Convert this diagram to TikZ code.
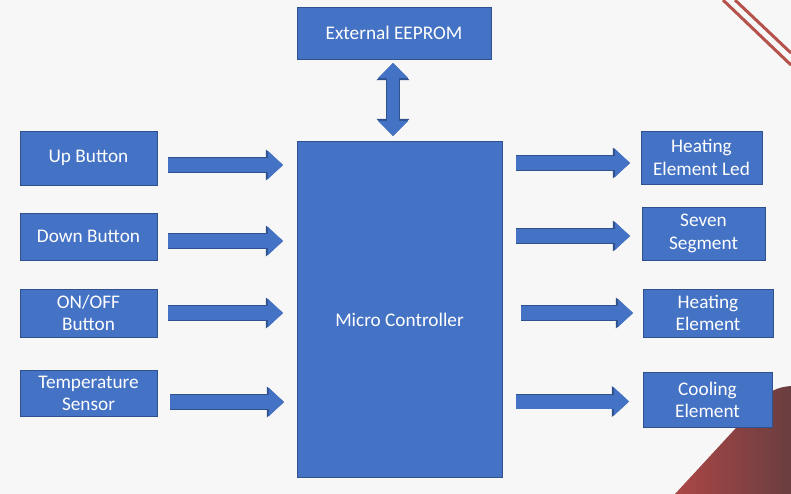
\documentclass[tikz,border=0pt]{standalone}
\usepackage{fontspec}
\setmainfont{Carlito}
\usetikzlibrary{arrows.meta}

\definecolor{boxblue}{HTML}{4472C4}
\definecolor{boxedge}{HTML}{2F528F}
\definecolor{slidebg}{HTML}{F7F7F7}
\definecolor{accentred}{RGB}{182,82,76}
\definecolor{cornerlight}{RGB}{172,70,70}
\definecolor{cornerdark}{RGB}{106,62,64}

\newcommand{\unitpx}{0.025cm}

\tikzset{
	blk/.style={draw=boxedge, fill=boxblue, line width=0.6pt, text=white, align=center, inner sep=0pt, font=\fontsize{13.7}{15.8}\selectfont},
	blockarrow/.style={line width=0.35cm, color=boxblue, -{Triangle[line width=0pt, length=0.375cm, width=0.7cm]},
		preaction={draw=boxedge, line width=0.35cm+1.2pt, -{Triangle[line width=0pt, length=0.43cm, width=0.78cm]}}},
	dblarrow/.style={line width=0.3cm, color=boxblue, {Triangle[line width=0pt, length=0.375cm, width=0.75cm]}-{Triangle[line width=0pt, length=0.375cm, width=0.75cm]},
		preaction={draw=boxedge, line width=0.3cm+1.2pt, {Triangle[line width=0pt, length=0.43cm, width=0.83cm]}-{Triangle[line width=0pt, length=0.43cm, width=0.83cm]}}},
}

\begin{document}
\begin{tikzpicture}[x=\unitpx, y=-\unitpx]

		\useasboundingbox (0,0) rectangle (791,494);
		\fill [slidebg] (0,0) rectangle (791,494);

		% slide decoration
		\draw [accentred, line width=3*\unitpx] (723,0) -- (791,65);
		\draw [accentred, line width=3*\unitpx] (735,0) -- (791,53);
		\shade [left color=cornerlight, right color=cornerdark] (675,494) -- (759,403) .. controls (767,392) and (777,387) .. (791,386) -- (791,494) -- cycle;

		% inputs
		\node [blk, minimum width=137*\unitpx, minimum height=54*\unitpx] (up) at (88.5,158) {Up Button};
		\node [blk, minimum width=137*\unitpx, minimum height=47*\unitpx] (down) at (88.5,236.5) {Down Button};
		\node [blk, minimum width=137*\unitpx, minimum height=48*\unitpx] (onoff) at (88.5,313) {ON/OFF\\Button};
		\node [blk, minimum width=137*\unitpx, minimum height=46*\unitpx] (temp) at (88.5,393) {Temperature\\Sensor};

		% controller and memory
		\node [blk, minimum width=194*\unitpx, minimum height=52*\unitpx] (eeprom) at (394,33) {External EEPROM};
		\node [blk, minimum width=205*\unitpx, minimum height=336*\unitpx] (mcu) at (399.5,309) {\raisebox{-0.275cm}[\height][\depth]{Micro Controller}};

		% outputs
		\node [blk, minimum width=121*\unitpx, minimum height=53*\unitpx] (led) at (701.5,157.5) {Heating\\Element Led};
		\node [blk, minimum width=123*\unitpx, minimum height=53*\unitpx] (seg) at (703.5,233.5) {Seven\\Segment};
		\node [blk, minimum width=130*\unitpx, minimum height=48*\unitpx] (heat) at (708,313) {Heating\\Element};
		\node [blk, minimum width=129*\unitpx, minimum height=55*\unitpx] (cool) at (707.5,400) {Cooling\\Element};

		% arrow ends
		\coordinate (upS) at (168,165);
		\coordinate (upE) at (283,165);
		\coordinate (downS) at (168,241);
		\coordinate (downE) at (283,241);
		\coordinate (onoffS) at (168,313);
		\coordinate (onoffE) at (283,313);
		\coordinate (tempS) at (170,402);
		\coordinate (tempE) at (284,402);

		\coordinate (ledS) at (516,163);
		\coordinate (ledE) at (630,163);
		\coordinate (segS) at (516,236);
		\coordinate (segE) at (630,236);
		\coordinate (heatS) at (521,313);
		\coordinate (heatE) at (633,313);
		\coordinate (coolS) at (516,401.5);
		\coordinate (coolE) at (629,401.5);

		\coordinate (memT) at (393,63);
		\coordinate (memB) at (393,136);

		\draw [blockarrow] (upS) -- (upE);
		\draw [blockarrow] (downS) -- (downE);
		\draw [blockarrow] (onoffS) -- (onoffE);
		\draw [blockarrow] (tempS) -- (tempE);

		\draw [blockarrow] (ledS) -- (ledE);
		\draw [blockarrow] (segS) -- (segE);
		\draw [blockarrow] (heatS) -- (heatE);
		\draw [blockarrow] (coolS) -- (coolE);

		\draw [dblarrow] (memT) -- (memB);
\end{tikzpicture}
\end{document}
